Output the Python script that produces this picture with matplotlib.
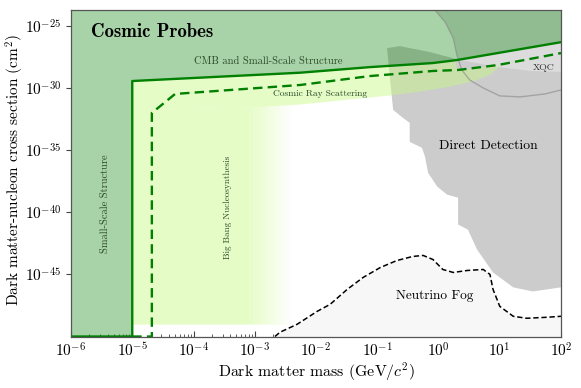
import numpy as np
import matplotlib
matplotlib.use('Agg')
from matplotlib import pyplot as plt

plt.rcParams['font.family'] = 'serif'
plt.rcParams['font.serif'] = ['cmr10']
plt.rcParams['mathtext.fontset'] = 'cm'
plt.rcParams['axes.formatter.use_mathtext'] = True
plt.rcParams['axes.unicode_minus'] = False

# all values are log10 of (mass in GeV, cross section in cm^2)
solid_lx = [-6.0, -5.0, -5.0, -2.26, -1.12, -0.09, 0.30, 2.0]
solid_ly = [-50.0, -50.0, -29.42, -28.75, -28.30, -27.97, -27.73, -26.29]

dashed_lx = [-5.0, -4.68, -4.68, -4.30, -2.26, -1.12, -0.09, 0.32, 0.97, 2.0]
dashed_ly = [-50.0, -50.0, -31.99, -30.46, -29.74, -29.02, -28.61, -28.53, -28.13, -27.17]

band_low_lx = [-5.0, -3.08, -2.26, -1.44, -0.79, -0.30, 0.19, 0.60, 0.84, 0.97]
band_low_ly = [-31.75, -31.51, -31.27, -30.86, -30.54, -30.22, -29.82, -29.34, -28.86, -28.29]
bbn_floor = -49.0
bbn_fade = (-3.1, -2.4)

dd_lx = [-0.84, -0.63, -0.14, 0.35, 0.97, 1.49, 2.0, 2.0, 1.54, 1.22, 0.89, 0.63, 0.48,
         0.32, 0.32, 0.14, -0.02, -0.17, -0.22, -0.27, -0.47, -0.47, -0.58, -0.74, -0.79]
dd_ly = [-26.77, -26.61, -27.09, -27.73, -28.29, -28.61, -28.69, -46.04, -46.37, -46.04,
         -44.84, -43.0, -41.39, -40.98, -38.82, -38.57, -37.93, -36.81, -35.52, -34.80,
         -34.32, -32.79, -32.39, -31.75, -29.34]

xqc_lx = [-0.06, 0.11, 0.24, 0.30, 0.38, 0.51, 0.73, 1.0, 1.33, 1.74, 2.0]
xqc_ly = [-23.7, -24.68, -25.96, -27.33, -28.53, -29.34, -29.98, -30.62, -30.70, -30.46, -30.14]

fog_lx = [-2.67, -2.59, -2.31, -1.98, -1.77, -1.49, -1.23, -0.95, -0.68, -0.42, -0.25,
          -0.09, 0.07, 0.24, 0.47, 0.73, 0.84, 0.89, 1.0, 1.22, 1.44, 1.77, 2.0]
fog_ly = [-50.0, -49.66, -49.02, -47.97, -47.41, -46.20, -45.24, -44.44, -43.88, -43.55,
          -43.47, -43.80, -44.60, -44.84, -44.68, -44.60, -45.0, -46.20, -47.57, -48.37,
          -48.53, -48.45, -48.37]

x_lim = (-6, 2)
y_lim = (-50, -23.7)

green = '#008000'
yellow = '#c8fa82'
yellow_alpha = 0.45

fig = plt.figure(figsize=(5.81, 3.88), dpi=100)
ax = fig.add_axes([0.1222, 0.1327, 0.8434, 0.8415])
ax.set_xscale('log')
ax.set_yscale('log')

p = lambda v: 10.0 ** np.asarray(v)

# XQC (light grey) and direct detection (grey)
xqc_poly_x = xqc_lx + [2.0, 2.0]
xqc_poly_y = xqc_ly + [-23.0, -23.0]
ax.fill(p(xqc_poly_x), p(xqc_poly_y), color='#dcdcdc', lw=0, zorder=1)
ax.fill(p(dd_lx), p(dd_ly), color='#cccccc', lw=0, zorder=2)

# neutrino fog
ax.fill_between(p(fog_lx), p(fog_ly), 1e-52, color='#f7f7f7', lw=0, zorder=2)
ax.plot(p(fog_lx), p(fog_ly), color='black', lw=1.1, ls=(0, (3.5, 1.8)), zorder=6)

# cosmic ray scattering band
xs = np.linspace(-5.0, 0.97, 300)
top = np.where(xs < 0.28, np.interp(xs, solid_lx[2:], solid_ly[2:]),
               np.interp(xs, dashed_lx[2:], dashed_ly[2:]))
low = np.interp(xs, band_low_lx, band_low_ly)
ax.fill_between(p(xs), p(low), p(top), color=yellow, alpha=yellow_alpha, lw=0, zorder=3)

# big bang nucleosynthesis, fading out to the right
xb = np.linspace(-5.0, bbn_fade[0], 50)
ax.fill_between(p(xb), p(bbn_floor), p(np.interp(xb, band_low_lx, band_low_ly)),
                color=yellow, alpha=yellow_alpha, lw=0, zorder=3)
edges = np.linspace(bbn_fade[0], bbn_fade[1], 31)
for i in range(len(edges) - 1):
    xe = edges[i:i + 2]
    a = yellow_alpha * (1 - (i + 0.5) / (len(edges) - 1))
    ax.fill_between(p(xe), p(bbn_floor), p(np.interp(xe, band_low_lx, band_low_ly)),
                    color=yellow, alpha=a, lw=0, zorder=3)

# CMB and small-scale structure
ax.fill_between(p(solid_lx), p(solid_ly), 1e-20, color=green, alpha=0.34, lw=0, zorder=4)

ax.plot(p(xqc_lx), p(xqc_ly), color='#888888', lw=1.0, alpha=0.6, zorder=5)
ax.plot(p(solid_lx), p(solid_ly), color=green, lw=1.7, zorder=6)
ax.plot(p(dashed_lx), p(dashed_ly), color=green, lw=1.7, ls=(0, (4, 2.2)), zorder=6)

tc = '#2a4a2a'
ax.text(p(-5.67), p(-25.48), 'Cosmic Probes', fontsize=13.5, family='cmb10',
        ha='left', va='center', zorder=7)
ax.text(p(-2.78), p(-27.81), 'CMB and Small-Scale Structure', fontsize=7.6,
        color=tc, ha='center', va='center', zorder=7)
ax.text(p(-1.93), p(-30.46), 'Cosmic Ray Scattering', fontsize=6.8,
        color=tc, ha='center', va='center', zorder=7)
ax.text(p(-5.44), p(-39.3), 'Small-Scale Structure', fontsize=7.5, rotation=90,
        color=tc, ha='center', va='center', zorder=7)
ax.text(p(-3.44), p(-39.6), 'Big Bang Nucleosynthesis', fontsize=6.6, rotation=90,
        color=tc, ha='center', va='center', zorder=7)
ax.text(p(0.82), p(-34.64), 'Direct Detection', fontsize=9.8,
        ha='center', va='center', zorder=7)
ax.text(p(1.71), p(-28.37), 'XQC', fontsize=7, color='#333333',
        ha='center', va='center', zorder=7)
ax.text(p(-0.06), p(-46.77), 'Neutrino Fog', fontsize=9.6,
        ha='center', va='center', zorder=7)

ax.set_xlim(p(x_lim[0]), p(x_lim[1]))
ax.set_ylim(p(y_lim[0]), p(y_lim[1]))
ax.set_xticks(p(np.arange(-6, 3)))
ax.set_yticks(p([-45, -40, -35, -30, -25]))
ax.yaxis.set_minor_locator(matplotlib.ticker.NullLocator())
ax.xaxis.set_minor_locator(matplotlib.ticker.LogLocator(base=10, subs=np.arange(2, 10), numticks=20))
ax.xaxis.set_minor_formatter(matplotlib.ticker.NullFormatter())
ax.tick_params(axis='x', which='both', direction='in', labelsize=11, color='#444444')
ax.tick_params(axis='x', which='major', length=4)
ax.tick_params(axis='x', which='minor', length=2)
ax.tick_params(axis='y', which='major', direction='out', length=3.5, labelsize=11, color='#444444')
for s in ax.spines.values():
    s.set_color('#555555')
    s.set_linewidth(0.9)
    s.set_zorder(8)

ax.set_xlabel('Dark matter mass (GeV/$c^2$)', fontsize=11.4, labelpad=0.5)
ax.set_ylabel('Dark matter-nucleon cross section (cm$^2$)', fontsize=11)
ax.yaxis.set_label_coords(-0.091, 0.51)

plt.savefig('out.png', dpi=100)
